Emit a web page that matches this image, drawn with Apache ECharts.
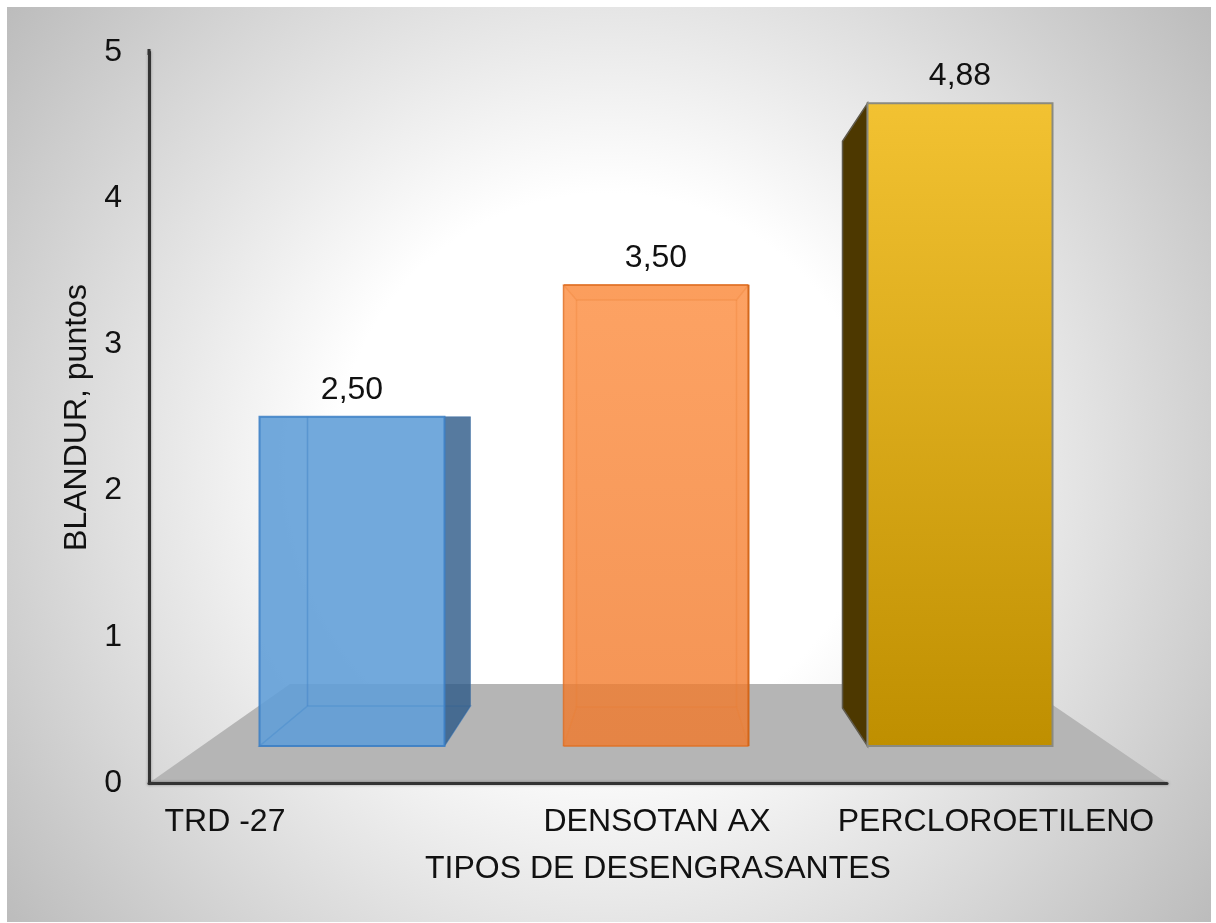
<!DOCTYPE html>
<html>
<head>
<meta charset="utf-8">
<style>html,body{margin:0;padding:0;background:#fff}#chart{width:1216px;height:923px}</style>
<script src="https://cdn.jsdelivr.net/npm/echarts@6/dist/echarts.min.js"></script>
</head>
<body>
<div id="chart"></div>
<script>
// Softness score per degreasing agent
const categories = ['TRD -27', 'DENSOTAN AX', 'PERCLOROETILENO'];
const blandur = [2.5, 3.5, 4.88];
const axisTicks = ['0', '1', '2', '3', '4', '5'];
const xTitle = 'TIPOS DE DESENGRASANTES';
const yTitle = 'BLANDUR, puntos';

const FONT = '"Liberation Sans", Arial, sans-serif';
const FONT_SIZE = 32;

// Box depth per bar, in pixels: how far the rear face sits from the front one
const boxDepth = [
  { left: 48, right: 26, top: 0, bottom: 40 },
  { left: 13, right: -12, top: 15, bottom: 39 },
  { left: -25, right: 0, top: 38, bottom: 38 }
];
// Sideways shift of each category label relative to its bar
const labelShift = [-127, 1, 36];

const poly = (points, fill, stroke, lineWidth) => ({
  type: 'polygon',
  shape: { points },
  style: { fill: fill || 'none', stroke: stroke || 'none', lineWidth: lineWidth || 0 }
});
const vGrad = (a, b) => new echarts.graphic.LinearGradient(0, 0, 0, 1, [
  { offset: 0, color: a }, { offset: 1, color: b }
]);

function faces(i, x0, x1, yT, yB) {
  const d = boxDepth[i];
  const bx0 = x0 + d.left, bx1 = x1 + d.right, byT = yT + d.top, byB = yB - d.bottom;
  if (i === 0) {
    const edge = 'rgba(58,126,196,0.85)';
    return [
      poly([[x0, yB], [x1, yB], [bx1, byB], [bx0, byB]], 'rgba(60,125,195,0.10)', 'rgba(58,126,196,0.4)', 1.5),
      poly([[x1, yT], [bx1, yT], [bx1, byB], [x1, yB]], 'rgba(47,91,137,0.81)', 'rgba(58,110,165,0.5)', 1),
      poly([[x0, yT], [x1, yT], [x1, yB], [x0, yB]], 'rgba(97,158,216,0.89)', edge, 2),
      { type: 'line', shape: { x1: bx0, y1: yT, x2: bx0, y2: byB }, style: { stroke: 'rgba(70,135,200,0.55)', lineWidth: 1.5 } },
      { type: 'line', shape: { x1: bx0, y1: byB, x2: x1, y2: byB }, style: { stroke: 'rgba(70,135,200,0.35)', lineWidth: 1.5 } },
      { type: 'line', shape: { x1: x0, y1: yB, x2: bx0, y2: byB }, style: { stroke: 'rgba(70,135,200,0.35)', lineWidth: 1.5 } }
    ];
  }
  if (i === 1) {
    const face = vGrad('rgba(252,131,47,0.75)', 'rgba(241,121,42,0.80)');
    const seam = 'rgba(236,125,50,0.30)';
    return [
      poly([[x0, yT], [x1, yT], [x1, yB], [x0, yB]], face, 'none', 0),
      poly([[x0, yT], [x1, yT], [bx1, byT], [bx0, byT]], 'rgba(240,110,30,0.08)', seam, 1.5),
      poly([[x0, yB], [x1, yB], [bx1, byB], [bx0, byB]], 'rgba(240,120,50,0.04)', seam, 1.5),
      { type: 'line', shape: { x1: bx0, y1: byT, x2: bx0, y2: byB }, style: { stroke: seam, lineWidth: 1.5 } },
      { type: 'line', shape: { x1: bx1, y1: byT, x2: bx1, y2: byB }, style: { stroke: seam, lineWidth: 1.5 } },
      { type: 'line', shape: { x1: x0, y1: yT, x2: x0, y2: yB }, style: { stroke: 'rgba(222,110,35,0.8)', lineWidth: 1.5 } },
      { type: 'line', shape: { x1: x0, y1: yB, x2: x1, y2: yB }, style: { stroke: 'rgba(222,110,35,0.8)', lineWidth: 1.5 } },
      { type: 'line', shape: { x1: x0, y1: yT, x2: x1, y2: yT }, style: { stroke: 'rgba(222,110,35,0.8)', lineWidth: 2 } },
      { type: 'line', shape: { x1: x1, y1: yT, x2: x1, y2: yB }, style: { stroke: 'rgba(210,98,20,0.95)', lineWidth: 2 } }
    ];
  }
  return [
    poly([[x0, yT], [bx0, byT], [bx0, byB], [x0, yB]], '#4d3800', '#5f5a4c', 1.5),
    poly([[x0, yT], [x1, yT], [x1, yB], [x0, yB]], vGrad('#f2c232', '#bf8f00'), '#8a8a80', 2)
  ];
}

function renderBar(params, api) {
  const i = api.value(0);
  const v = api.value(1);
  const barWidth = 185;
  const [cx, yB] = api.coord([i, 0]);
  const [, yT] = api.coord([i, v]);
  const x0 = cx - barWidth / 2, x1 = cx + barWidth / 2;
  const children = faces(i, x0, x1, yT, yB);
  children.push({
    type: 'text',
    style: {
      text: v.toFixed(2).replace('.', ','),
      x: cx, y: yT - 27,
      fill: '#111', font: FONT_SIZE + 'px ' + FONT,
      align: 'center', verticalAlign: 'middle'
    }
  });
  return { type: 'group', children };
}

function renderFloor(params, api) {
  const g = params.coordSys;
  const base = g.y + g.height;
  const rear = base - 99;
  return poly([[g.x, base], [g.x + 141, rear], [g.x + 873, rear], [g.x + g.width, base]], '#b5b5b5');
}

const chart = echarts.init(document.getElementById('chart'), null, { renderer: 'canvas' });
const axisLine = extra => ({
  show: true,
  symbol: extra,
  symbolSize: [3, 6],
  lineStyle: { color: '#333', width: 3, shadowColor: 'rgba(0,0,0,0.35)', shadowBlur: 3 }
});

chart.setOption({
  animation: false,
  backgroundColor: '#fff',
  graphic: [{
    type: 'rect',
    z: -10,
    silent: true,
    shape: { x: 7, y: 7, width: 1204, height: 915 },
    style: {
      fill: new echarts.graphic.RadialGradient(608, 465, 755, [
        { offset: 0, color: '#ffffff' },
        { offset: 0.36, color: '#ffffff' },
        { offset: 1, color: '#bcbcbc' }
      ], true)
    }
  }],
  grid: [
    { left: 149, top: 52, width: 1018, height: 731 },
    { left: 200, top: 87.5, width: 912, height: 658.5 }
  ],
  xAxis: [
    {
      gridIndex: 0, type: 'category', data: categories, z: 6,
      axisLine: axisLine('none'), axisTick: { show: false }, axisLabel: { show: false },
      name: xTitle, nameLocation: 'middle', nameGap: 70,
      nameTextStyle: { fontFamily: FONT, fontSize: FONT_SIZE, color: '#111' }
    },
    {
      gridIndex: 1, type: 'category',
      data: categories.map((c, i) => ({
        value: c,
        textStyle: {
          padding: labelShift[i] < 0 ? [0, -2 * labelShift[i], 0, 0] : [0, 0, 0, 2 * labelShift[i]]
        }
      })),
      axisLine: { show: false }, axisTick: { show: false },
      axisLabel: { interval: 0, margin: 60, fontFamily: FONT, fontSize: FONT_SIZE, color: '#111' }
    }
  ],
  yAxis: [
    {
      gridIndex: 0, type: 'value', min: 0, max: axisTicks.length - 1, interval: 1, z: 6,
      axisLine: axisLine(['none', 'rect']), axisTick: { show: false }, splitLine: { show: false },
      axisLabel: { margin: 27, padding: [5, 0, 0, 0], fontFamily: FONT, fontSize: FONT_SIZE, color: '#111',
        formatter: (v, i) => axisTicks[i] },
      name: yTitle, nameLocation: 'middle', nameGap: 47, nameRotate: 90,
      nameTextStyle: { fontFamily: FONT, fontSize: FONT_SIZE, color: '#111' }
    },
    { gridIndex: 1, type: 'value', min: 0, max: 5, show: false }
  ],
  series: [
    { type: 'custom', xAxisIndex: 0, yAxisIndex: 0, z: 1, silent: true, renderItem: renderFloor, data: [0] },
    {
      type: 'custom', xAxisIndex: 1, yAxisIndex: 1, z: 2, silent: true,
      renderItem: renderBar,
      encode: { x: 0, y: 1 },
      data: blandur.map((v, i) => [i, v])
    }
  ]
});
</script>
</body>
</html>
